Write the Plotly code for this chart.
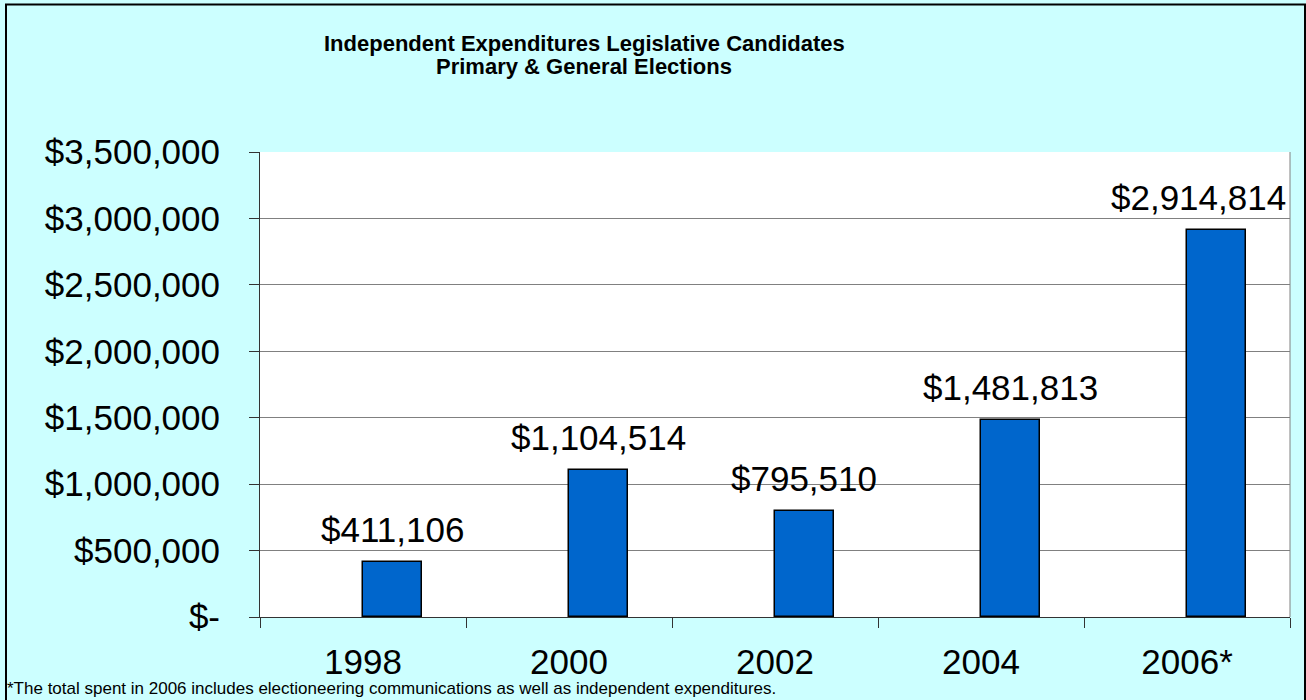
import plotly.graph_objects as go

years = ["1998", "2000", "2002", "2004", "2006*"]
values = [411106, 1104514, 795510, 1481813, 2914814]
value_labels = ["$411,106", "$1,104,514", "$795,510", "$1,481,813", "$2,914,814"]
y_tickvals = [0, 500000, 1000000, 1500000, 2000000, 2500000, 3000000, 3500000]
y_ticktext = ["$-", "$500,000", "$1,000,000", "$1,500,000", "$2,000,000",
              "$2,500,000", "$3,000,000", "$3,500,000"]
title_lines = ["Independent Expenditures Legislative Candidates",
               "Primary & General Elections"]
footnote = "*The total spent in 2006 includes electioneering communications as well as independent expenditures."

FONT = "Liberation Sans, Arial, sans-serif"
W, H = 1306, 700
L, R, T, B = 260, 1290, 152, 617
pw, ph = R - L, B - T

def px(x):
    return (x - L) / pw

def py(y):
    return (B - y) / ph

BAR_W = 0.286
BIG = 35

fig = go.Figure()
fig.add_trace(go.Bar(
    x=years, y=values,
    width=BAR_W, offset=0,
    marker=dict(color="#0066CC", line=dict(color="#000000", width=1.5)),
    hoverinfo="x+y",
))

annotations = []
n = len(values)
for i, (v, lab) in enumerate(zip(values, value_labels)):
    last = (i == n - 1)
    annotations.append(dict(
        x=(n - 0.5) if last else i + BAR_W / 2, y=v, xref="x", yref="y",
        text=lab, showarrow=False,
        xanchor="right" if last else "center", xshift=-2 if last else 0,
        yanchor="bottom", yshift=11,
        font=dict(family=FONT, size=BIG, color="#000000"),
    ))

for line, yc in zip(title_lines, [43, 67]):
    annotations.append(dict(
        x=px(584), y=py(yc), xref="paper", yref="paper",
        text="<b>" + line + "</b>",
        showarrow=False, xanchor="center", yanchor="middle",
        font=dict(family=FONT, size=22, color="#000000"),
    ))
annotations.append(dict(
    x=px(5), y=py(700), xref="paper", yref="paper", text=footnote,
    showarrow=False, xanchor="left", yanchor="bottom",
    font=dict(family=FONT, size=17, color="#000000"),
))

shapes = [
    dict(type="rect", xref="paper", yref="paper",
         x0=px(6), x1=px(1305), y0=py(710), y1=py(4.5),
         line=dict(color="#000000", width=2), fillcolor="rgba(0,0,0,0)", layer="below"),
    dict(type="line", xref="paper", yref="paper", x0=1, x1=1, y0=0, y1=1,
         line=dict(color="#808080", width=1)),
]

fig.update_layout(
    width=W, height=H,
    margin=dict(l=L, r=W - R, t=T, b=H - B, pad=0),
    paper_bgcolor="#CCFFFF",
    plot_bgcolor="#FFFFFF",
    showlegend=False,
    bargap=0,
    annotations=annotations,
    shapes=shapes,
    font=dict(family=FONT, color="#000000"),
    xaxis=dict(
        type="category", range=[-0.5, 4.5],
        tickson="boundaries", ticks="outside", ticklen=10, tickcolor="#333333",
        showline=True, linecolor="#333333", linewidth=1,
        showgrid=False, tickfont=dict(family=FONT, size=BIG, color="#000000"),
        ticklabelstandoff=14,
    ),
    yaxis=dict(
        range=[0, 3500000], tickvals=y_tickvals, ticktext=y_ticktext,
        ticks="outside", ticklen=10, tickcolor="#333333",
        showline=True, linecolor="#333333", linewidth=1,
        showgrid=True, gridcolor="#808080", gridwidth=1,
        zeroline=False,
        tickfont=dict(family=FONT, size=BIG, color="#000000"),
        ticklabelstandoff=22,
    ),
)

fig.write_html("out.html", config={"displayModeBar": False},
               post_script="document.body.style.margin='0px';")
